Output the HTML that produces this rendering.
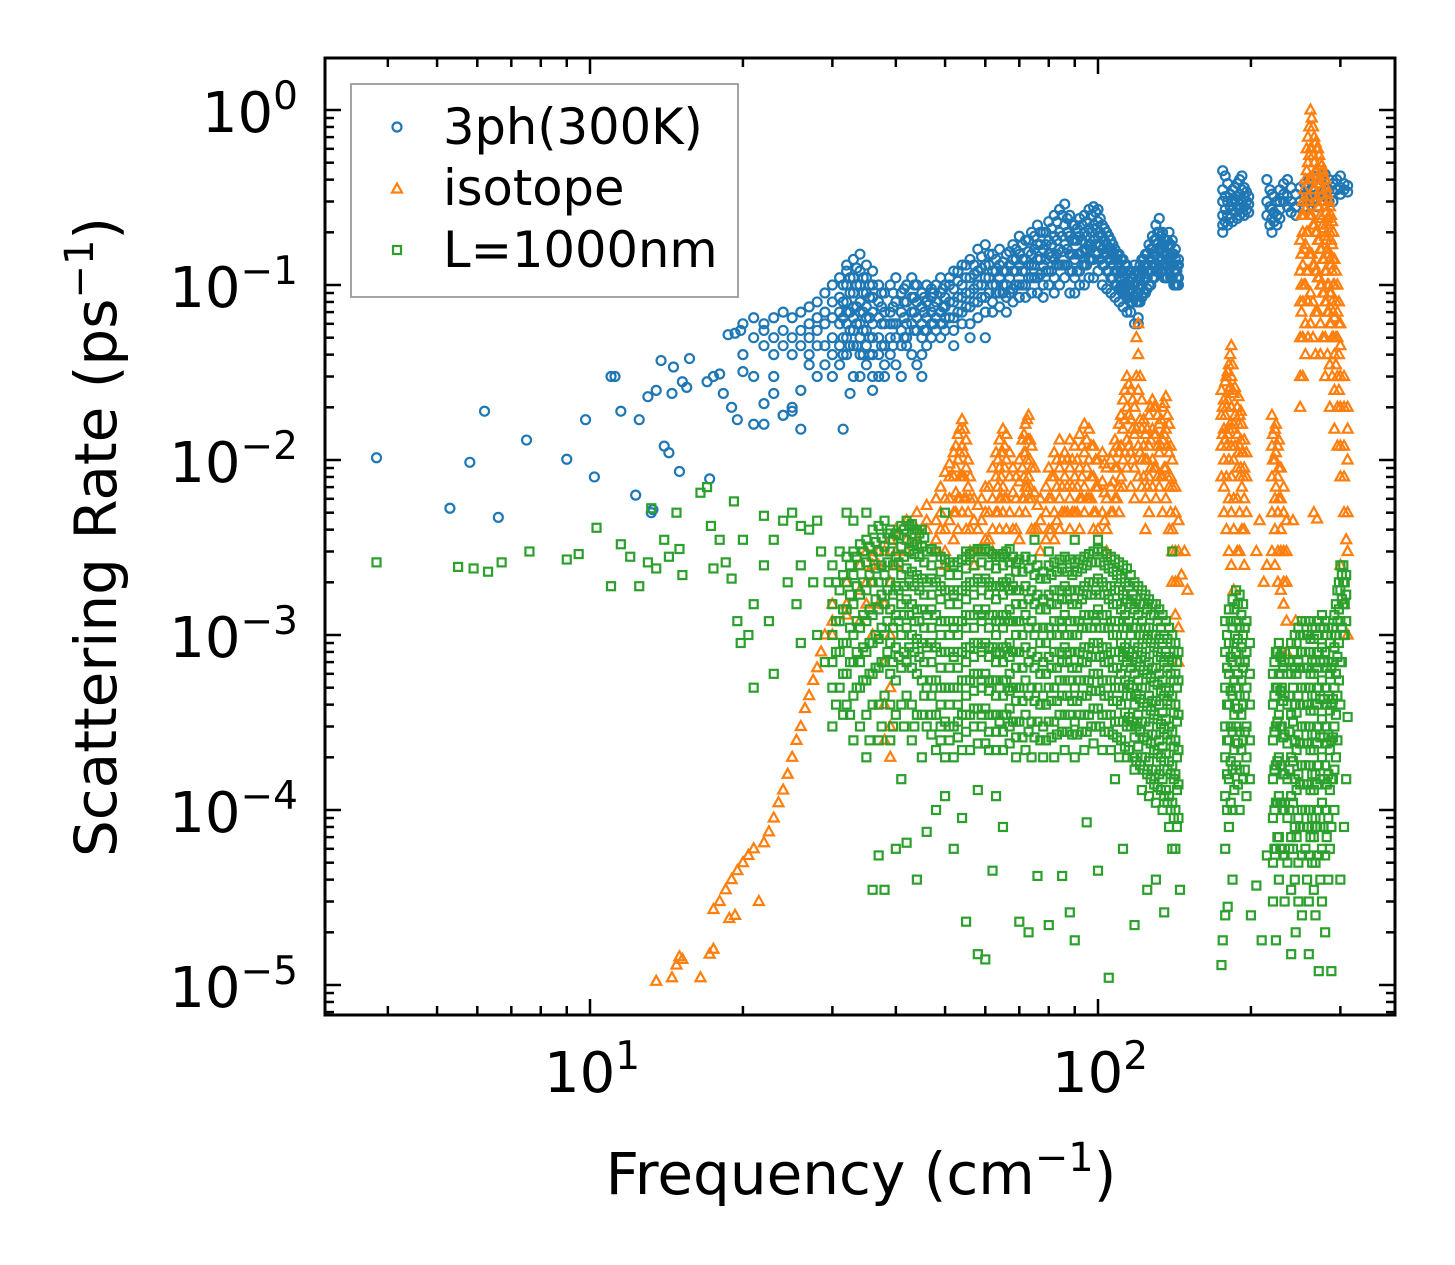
<!DOCTYPE html>
<html><head><meta charset="utf-8"><style>
html,body{margin:0;padding:0;background:#fff;}
svg{display:block;font-family:"DejaVu Sans","Liberation Sans",sans-serif;}
</style></head><body>
<svg id="chart" width="1455" height="1265" viewBox="0 0 1455 1265" xmlns="http://www.w3.org/2000/svg">
<rect width="1455" height="1265" fill="#fff"/>
<g id="marks"></g>
<g id="axes"></g>
</svg>
<script>
const blueSparse=[[3.8,.0103],[5.3,.0053],[5.8,.0097],[6.2,.019],[6.6,.0047],[7.5,.013],[9,.0101],[9.8,.017],[10.2,.008],[11,.03],[11.2,.03],[11.5,.019],[12.3,.0063],[12.5,.017],[13,.023],[13.2,.005],[13.3,.0052],[13.5,.025],[13.8,.037],[14,.012],[14.3,.011],[14.5,.024],[14.6,.034],[15,.0086],[15.2,.028],[15.5,.026],[15.7,.038],[17,.028],[17.2,.0078],[17.5,.03],[18,.031],[18.3,.024],[18.7,.052],[19,.02],[19.3,.053],[19.5,.017],[19.8,.055],[22,.016],[24,.018],[25,.019],[26,.015],[31.5,.015],[32.5,.024]];
const blueCols=[[20,.04,.06,.032],[21,.016,.05,.065,.03],[22,.021,.045,.055,.06],[23,.024,.03,.065,.05,.04],[24,.018,.055,.045,.07],[25,.02,.065,.04,.05],[26,.025,.07,.055,.045],[27,.035,.075,.05,.06,.04],[28,.03,.08,.055,.065,.045],[29,.045,.09,.06,.07,.035],[30,.05,.1,.065,.08,.04,.03],[31,.06,.11,.07,.085,.045,.035],[32,.07,.13,.08,.1,.05,.12,.06,.04],[33,.065,.14,.09,.11,.055,.075,.045,.03],[34,.06,.15,.1,.12,.05,.08,.07,.04,.03],[35,.055,.13,.09,.11,.045,.075,.065,.035],[36,.05,.12,.085,.1,.04,.07,.06,.03,.025],[37,.05,.1,.08,.065,.04,.03],[38,.045,.09,.07,.06,.035,.03],[39,.05,.1,.07,.06,.04],[40,.06,.11,.08,.05,.035],[41,.055,.09,.07,.045,.03],[42,.06,.1,.08,.05,.045],[43,.07,.11,.085,.06,.04],[44,.065,.1,.08,.055,.035],[45,.06,.09,.075,.05,.04,.03],[46,.065,.1,.08,.055,.045],[47,.07,.095,.085,.06,.05],[48,.065,.1,.08,.055],[49,.07,.11,.09,.06,.05],[50,.075,.1,.085,.065,.055],[52,.08,.12,.095,.065,.055,.045],[54,.085,.13,.1,.07,.06],[56,.09,.14,.11,.075,.06,.05],[58,.1,.16,.12,.08,.065],[60,.11,.17,.13,.085,.07,.05],[62,.1,.15,.12,.08,.07],[64,.11,.16,.13,.09,.075],[66,.1,.15,.12,.085,.07],[68,.12,.17,.14,.095,.08],[70,.13,.19,.15,.1,.085],[72,.12,.18,.14,.1,.085],[74,.13,.2,.15,.11,.09],[76,.14,.22,.17,.11,.09],[78,.13,.2,.16,.1,.085],[80,.15,.23,.18,.12,.1],[82,.14,.25,.19,.11,.09],[84,.16,.27,.2,.13,.1],[86,.17,.29,.22,.13,.11],[88,.15,.25,.19,.12,.09],[90,.14,.22,.18,.11,.09],[92,.15,.24,.19,.12,.1],[94,.16,.25,.2,.13,.1],[96,.17,.27,.21,.14,.11],[98,.18,.28,.22,.14,.11],[100,.19,.27,.23,.15,.12],[102,.16,.22,.19,.13,.1],[104,.15,.2,.17,.12,.095],[106,.14,.18,.16,.11,.09],[108,.12,.16,.14,.1,.085],[110,.11,.15,.13,.095,.08],[112,.1,.14,.12,.09,.075],[114,.1,.13,.115,.085,.07],[116,.095,.12,.11,.08,.07],[118,.1,.13,.115,.085,.06],[120,.09,.12,.1,.08,.065,.06],[122,.1,.14,.12,.085],[124,.11,.15,.13,.09],[126,.12,.17,.14,.1],[128,.13,.19,.16,.11],[130,.15,.22,.18,.12],[132,.16,.24,.2,.13],[134,.14,.2,.17,.12],[136,.13,.18,.15,.11],[138,.14,.2,.17,.12],[140,.13,.18,.15,.11],[142,.12,.16,.14,.1],[144,.11,.14,.13,.1],[176,.22,.3,.45,.25,.35,.2],[178,.23,.32,.42,.27],[180,.25,.3,.38,.22],[182,.24,.33,.28],[184,.27,.35,.3,.23],[186,.26,.36,.31],[188,.28,.38,.32,.24],[190,.27,.4,.33,.25],[192,.3,.42,.35],[194,.28,.36,.32,.25],[196,.27,.34,.3],[198,.26,.32,.29],[215,.3,.4,.25],[218,.28,.35,.22],[220,.27,.33,.24,.2],[222,.26,.32,.23],[225,.25,.3,.22],[228,.27,.35,.3,.24],[232,.3,.38,.33],[236,.32,.4,.28],[240,.3,.36,.26],[245,.28,.33,.25],[250,.3,.36],[255,.32,.38,.28],[260,.33,.4,.3],[265,.35,.42,.3],[270,.33,.38,.28],[275,.34,.4],[280,.36,.43,.32],[285,.35,.4,.3],[290,.34,.38,.3],[295,.35,.4],[300,.36,.42,.33],[305,.35,.38],[310,.34,.37]];
const blueCols2=[[31.5,.05,.065,.08,.1,.04],[32.5,.055,.07,.09,.11,.045],[33.5,.06,.075,.1,.125,.045],[34.5,.055,.07,.09,.11,.04],[35.5,.05,.065,.085,.1,.04],[37.5,.045,.06,.075,.09],[39.5,.045,.06,.075,.09],[41.5,.05,.065,.08,.095],[43.5,.055,.07,.085,.1],[45.5,.055,.07,.085],[47.5,.06,.075,.09],[49.5,.06,.075,.095],[51,.065,.08,.1,.11],[53,.07,.085,.105,.12],[55,.075,.09,.11,.13],[57,.08,.095,.115,.13],[59,.085,.1,.125,.145],[61,.09,.11,.13,.15],[63,.09,.1,.12,.14],[65,.09,.1,.12,.135],[67,.09,.11,.13,.155],[69,.1,.12,.14,.16],[71,.1,.12,.14,.17],[73,.11,.13,.155,.18],[75,.11,.13,.16,.19],[77,.115,.14,.17,.2],[79,.12,.14,.17,.2],[81,.12,.145,.17,.21],[83,.13,.15,.18,.23],[85,.13,.155,.19,.25],[87,.13,.16,.2,.24],[89,.12,.15,.18,.22],[91,.12,.15,.18,.21],[93,.13,.155,.18,.22],[95,.13,.16,.19,.23],[97,.14,.17,.2,.25],[99,.15,.17,.21,.26],[101,.14,.17,.2,.24],[103,.13,.15,.18,.21],[105,.12,.14,.16,.19],[107,.11,.13,.15,.17],[109,.1,.12,.14,.15],[111,.095,.105,.12,.14],[113,.09,.1,.11,.13],[115,.085,.095,.105,.12],[117,.08,.09,.1,.11],[119,.08,.09,.105,.12],[121,.08,.095,.11,.13],[123,.09,.105,.12,.14],[125,.095,.11,.13,.15],[127,.1,.12,.14,.16],[129,.11,.13,.15,.18],[131,.12,.14,.17,.2],[133,.12,.14,.16,.19],[135,.11,.13,.15,.17],[137,.11,.13,.15,.18],[139,.11,.13,.15,.17],[141,.1,.12,.13,.15],[143,.1,.11,.12,.13]];
const orangeSparse=[[13.5,1.05e-5],[14.5,1.1e-5],[14.8,1.3e-5],[15.2,1.4e-5],[15,1.45e-5],[16.5,1.1e-5],[17.2,1.5e-5],[17.5,1.6e-5],[17.5,2.7e-5],[18,3e-5],[18.5,3.5e-5],[18.8,2.4e-5],[19,4e-5],[19.3,2.5e-5],[19.5,4.5e-5],[20,5e-5],[20.5,5.5e-5],[21,6e-5],[21.5,3e-5],[22,6.5e-5],[22.5,7.5e-5],[23,9e-5],[23.5,1.1e-4],[24,1.3e-4],[24.5,1.6e-4],[25,2e-4],[25.5,2.5e-4],[26,3e-4],[26.5,3.8e-4],[27,4.5e-4],[27.5,5.5e-4],[28,6.5e-4],[28.5,8e-4],[29,1e-3],[146,.0022],[148,.003],[150,.0018],[205,.003],[208,.0045],[212,.002],[215,.0025],[242,.0045],[245,.0012],[300,.0025],[305,.0015],[308,.0035],[310,.001],[270,.0046],[266,.005]];
const orangeCols=[[30,.0012,.001,.0015],[32,.0015,.0013,.002],[34,.0018,.0012,.0025],[35,.002,.0015,.003],[36,.002,.001,.0025,.0028],[37,.0025,.0015,.003],[38,.003,.0015,7e-4,4e-4,2.5e-4],[39,.0035,.002,.001,5e-4,3e-4,2e-4],[40,.003,.0025,.004],[42,.0035,.003,.0045],[44,.004,.0035,.005],[46,.0045,.004,.0055],[48,.0035,.0045,.006,.003],[50,.004,.006,.0085,.003,.0025],[52,.005,.008,.011,.0035],[53,.006,.01,.014,.004],[54,.008,.012,.017,.005],[55,.006,.009,.013,.004],[56,.004,.006,.008,.003],[57,.003,.0045,.006,.0025],[58,.003,.004,.0055],[60,.0035,.005,.007],[62,.004,.006,.009,.003],[63,.005,.008,.011],[64,.006,.009,.013,.004],[65,.007,.011,.015,.005],[66,.006,.01,.014,.004],[67,.005,.008,.011],[68,.004,.0065,.009],[70,.005,.0075,.01,.0035],[71,.006,.009,.013],[72,.007,.011,.016,.005],[73,.008,.013,.018,.006],[74,.006,.009,.012,.004],[75,.004,.0065,.009],[77,.003,.0045,.006],[79,.0035,.005,.007],[80,.004,.006,.009],[82,.005,.008,.011,.0035],[84,.006,.009,.013,.004],[86,.005,.008,.011],[88,.006,.009,.013,.004],[90,.005,.008,.012],[92,.006,.009,.014,.004],[94,.007,.011,.016,.005],[96,.006,.01,.015],[98,.005,.008,.012,.004],[100,.004,.007,.01],[102,.005,.0075,.011],[104,.004,.006,.009,.003],[106,.005,.007,.01],[108,.006,.009,.013],[110,.007,.011,.016,.005],[112,.01,.015,.022,.007],[114,.013,.02,.03,.009],[116,.011,.017,.025,.007],[118,.009,.014,.02,.006],[120,.012,.025,.04,.06,.008],[122,.01,.015,.022,.007],[124,.006,.01,.014,.004],[126,.008,.012,.018,.005],[128,.01,.015,.022,.007],[130,.009,.014,.02,.006],[132,.007,.011,.016],[134,.008,.013,.02,.005],[136,.009,.015,.023,.006],[138,.007,.011,.016,.004],[140,.004,.007,.01,.003,.002],[142,.003,.005,.007,.002,.0013],[144,.002,.003,.0045,.0011,7e-4],[175,.012,.018,.025,.008],[177,.01,.015,.022,.007,.005],[179,.012,.02,.03,.008,.004],[181,.015,.025,.035,.01,.006,.003],[183,.012,.02,.03,.045,.008,.005,.0025],[185,.01,.016,.024,.006,.004,.0018],[188,.009,.014,.02,.006,.003],[190,.008,.012,.018,.005,.003],[192,.007,.011,.016,.004],[194,.006,.009,.013,.004,.0025],[196,.005,.008,.011],[220,.008,.012,.018,.005,.003],[223,.006,.01,.015,.004,.0025],[226,.005,.008,.012,.003,.002],[229,.004,.006,.009,.003,.0018],[232,.003,.005,.007,.002,.0015],[235,.002,.003,.0045,.0012,8e-4],[250,.05,.08,.12,.18,.03,.02],[253,.08,.13,.2,.3,.05,.03],[256,.1,.17,.27,.4,.06,.04],[259,.12,.2,.32,.5,.7,.08,.05],[262,.15,.25,.4,.6,1.0,.09,.06],[265,.13,.22,.35,.55,.8,.08,.05],[268,.12,.2,.3,.45,.65,.07,.04],[271,.11,.18,.28,.42,.6,.07],[274,.1,.16,.25,.38,.5,.06,.04],[277,.09,.14,.22,.33,.45,.05],[280,.08,.12,.19,.28,.4,.05,.03],[283,.07,.1,.16,.24,.33,.04],[286,.06,.09,.14,.2,.28,.035,.02],[289,.05,.08,.12,.17,.23,.03],[292,.04,.065,.1,.14,.025,.015],[296,.03,.05,.07,.1,.02,.012],[300,.02,.03,.045,.06,.012,.008],[305,.012,.02,.03,.008,.005],[310,.01,.015,.02,.005,.003]];
const orangeCols2=[[49,.004,.005,.007],[51,.0045,.006,.008,.0095],[52.5,.005,.0065,.009,.012],[53.5,.006,.008,.011,.015],[54.5,.006,.008,.011,.015],[55.5,.005,.007,.01],[59,.003,.0045,.006],[61,.0035,.005,.007],[63.5,.005,.007,.01],[64.5,.006,.008,.011],[65.5,.006,.009,.012],[69,.004,.006,.008],[71.5,.006,.008,.011,.014],[72.5,.007,.01,.013,.017],[73.5,.007,.01,.013],[76,.004,.0055],[81,.004,.006,.008],[83,.0045,.007,.01],[85,.005,.007,.01],[87,.005,.007,.01],[89,.005,.007,.01],[91,.005,.007,.01],[93,.006,.008,.012],[95,.006,.009,.013],[97,.006,.008,.012],[99,.005,.007,.01],[103,.0045,.0065,.0095],[107,.005,.0075,.011],[109,.006,.009,.012],[111,.008,.012,.018],[113,.011,.017,.025],[115,.012,.018,.027],[117,.01,.015,.022],[119,.015,.03,.05],[121,.011,.017,.03],[123,.008,.012,.017],[125,.007,.01,.015],[127,.009,.013,.02],[129,.009,.014,.02],[131,.008,.012,.018],[133,.008,.012,.017],[135,.009,.014,.021],[137,.008,.012,.018],[139,.005,.008,.012],[176,.014,.02],[178,.013,.018,.028],[180,.014,.022,.032],[182,.016,.026,.04],[184,.015,.025,.035],[186,.012,.018,.026],[189,.011,.016,.023],[191,.009,.013,.019],[193,.008,.011],[221,.01,.014],[224,.007,.011,.016],[227,.006,.009,.013],[251.5,.07,.1,.15,.25],[254.5,.1,.16,.25,.35],[257.5,.12,.2,.3,.45,.6],[260.5,.15,.25,.4,.55,.8],[263.5,.15,.25,.4,.6,.9],[266.5,.13,.22,.35,.5,.7],[269.5,.12,.2,.3,.45,.6],[272.5,.11,.18,.28,.4,.55],[275.5,.1,.16,.24,.35,.48],[278.5,.09,.14,.21,.3,.42],[281.5,.08,.12,.18,.26,.36],[284.5,.07,.1,.15,.22,.3],[287.5,.06,.09,.13,.18,.25],[290.5,.05,.07,.1,.14,.2],[294,.035,.05,.08,.12],[298,.025,.04,.06,.08]];
const greenSparse=[[3.8,.0026],[5.5,.00245],[5.9,.0024],[6.3,.0023],[6.7,.0026],[7.6,.003],[9,.0027],[9.5,.0029],[10.3,.0041],[11,.0019],[11.5,.0033],[12,.0028],[12.5,.0019],[13,.0026],[13.2,.0053],[13.5,.0024],[14,.0035],[14.3,.0028],[14.8,.005],[15,.0031],[15.2,.0022],[16.5,.0065],[17,.007],[17.3,.0042],[17.5,.0024],[18,.0035],[18.5,.0026],[19,.0021],[19.2,.0058],[19.5,.0012],[19.8,.0009],[20,.0035],[20.5,.001],[21,.0015],[21,.0005],[22,.0048],[22,.0025],[22.5,.0012],[23,.0006],[23,.0035],[24,.0045],[24.5,.002],[25,.005],[25.5,.0015],[26,.0009],[26,.0025],[27,.004],[27.5,.002],[28,.001],[28.5,.003],[29,.0007],[29.5,.002],[26,.0042],[28,.0045],[32,.005],[33,.0045],[35,.005],[37,5.5e-5],[38,3.5e-5],[36,3.5e-5],[40,6e-5],[42,6.5e-5],[44,4e-5],[46,7.5e-5],[48,1e-4],[52,6e-5],[55,2.3e-5],[58,1.5e-5],[60,1.4e-5],[62,4.5e-5],[65,8e-5],[70,2.3e-5],[73,2e-5],[76,4.2e-5],[80,2.2e-5],[85,4.2e-5],[88,2.6e-5],[90,1.8e-5],[95,8.5e-5],[100,4.5e-5],[105,1.1e-5],[108,1.5e-4],[112,6e-5],[118,2.2e-5],[125,3.5e-5],[130,4e-5],[135,2.6e-5],[140,6e-5],[145,3.5e-5],[175,1.3e-5],[176,1.8e-5],[180,2.8e-5],[200,2.5e-5],[205,3.7e-5],[210,1.8e-5],[215,5.5e-5],[245,2e-5],[248,3e-5],[300,4e-5],[305,8e-5],[308,1.5e-4],[310,3.4e-4],[50,.005],[55,.003],[75,.0035],[80,.003],[90,.0035],[100,.0035],[140,.003]];
const greenCols=[[30,.0015,.001,7e-4,5e-4,.0025,3e-4],[31,.0018,.0012,8e-4,5e-4,.003],[32,.002,.0014,9e-4,6e-4,4e-4,.0028],[33,.0022,.0015,.001,7e-4,4.5e-4,.003,2.5e-4],[34,.0025,.0017,.0011,7e-4,5e-4,.0033,3e-4],[35,.0026,.0018,.0012,8e-4,5.5e-4,.0035,3.5e-4,2e-4],[36,.0028,.002,.0013,9e-4,6e-4,.004,4e-4],[37,.003,.002,.0014,9.5e-4,6.5e-4,.0042,4e-4,2.5e-4],[38,.0032,.0022,.0015,.001,7e-4,.0045,4.5e-4],[39,.003,.002,.0014,9e-4,6e-4,.004,4e-4,2.5e-4],[40,.0028,.0019,.0013,8.5e-4,5.5e-4,.0038,3.5e-4],[41,.0032,.0022,.0015,.001,6.5e-4,.0042,4e-4,1.5e-4],[42,.0035,.0024,.0016,.0011,7e-4,.0045,4.5e-4],[43,.0034,.0023,.0015,.001,6.5e-4,.0043,4e-4,2.5e-4],[44,.0033,.0022,.0014,9.5e-4,6e-4,.004,3.5e-4],[45,.0032,.0021,.0014,9e-4,5.5e-4,.004,3.5e-4,2e-4],[46,.003,.002,.0013,8.5e-4,5e-4,3e-4],[47,.0031,.0021,.0014,9e-4,5.5e-4,3.5e-4],[48,.003,.002,.0013,8.5e-4,5.5e-4,3.5e-4,2.2e-4],[49,.0028,.0019,.0012,8e-4,5e-4,3e-4],[50,.0027,.0018,.0012,8e-4,5e-4,3.2e-4,2e-4,1.2e-4],[51,.0026,.0018,.0012,8e-4,5e-4,3e-4],[52,.0025,.0017,.0011,7.5e-4,5e-4,3e-4,2e-4],[53,.0026,.0018,.0012,8e-4,5e-4,3.2e-4],[54,.0027,.0018,.0012,8e-4,5.5e-4,3.5e-4,2.2e-4,9e-5],[55,.0028,.0019,.0013,8.5e-4,5.5e-4,3.5e-4],[56,.0029,.002,.0013,8.5e-4,5.5e-4,3.5e-4,2.2e-4],[57,.003,.002,.0013,9e-4,6e-4,3.8e-4],[58,.0031,.0021,.0014,9e-4,6e-4,3.8e-4,2.4e-4,1.3e-4],[59,.003,.002,.0013,8.5e-4,5.5e-4,3.5e-4],[60,.0031,.0021,.0014,9e-4,6e-4,3.8e-4,2.4e-4],[61,.003,.002,.0013,8.5e-4,5.5e-4,3.5e-4,2.2e-4],[62,.0029,.0019,.0013,8.5e-4,5.5e-4,3.5e-4],[63,.0028,.0019,.0012,8e-4,5.5e-4,3.5e-4,2.2e-4,1.2e-4],[64,.0028,.0019,.0012,8e-4,5e-4,3.2e-4],[65,.0029,.002,.0013,8.5e-4,5.5e-4,3.5e-4,2.2e-4],[66,.003,.002,.0013,8.5e-4,5.5e-4,3.5e-4],[67,.0031,.0021,.0014,9e-4,6e-4,3.8e-4,2.4e-4],[68,.0028,.0019,.0012,8e-4,5e-4,3.2e-4],[69,.0026,.0018,.0012,8e-4,5e-4,3.2e-4,2e-4],[70,.0027,.0018,.0012,8e-4,5e-4,3.2e-4],[72,.0028,.0019,.0013,8.5e-4,5.5e-4,3.5e-4,2.2e-4],[74,.0027,.0018,.0012,8e-4,5e-4,3.2e-4,2e-4],[76,.0025,.0017,.0011,7.5e-4,5e-4,3.2e-4],[78,.0023,.0016,.0011,7e-4,4.5e-4,3e-4,2e-4],[80,.0025,.0017,.0011,7.5e-4,5e-4,3.2e-4],[82,.0026,.0018,.0012,8e-4,5e-4,3.2e-4,2e-4],[84,.0027,.0018,.0012,8e-4,5.5e-4,3.5e-4],[86,.0028,.0019,.0013,8.5e-4,5.5e-4,3.5e-4,2.2e-4],[88,.0027,.0018,.0012,8e-4,5.5e-4,3.5e-4],[90,.0026,.0018,.0012,8e-4,5e-4,3.2e-4,2e-4],[92,.0027,.0018,.0012,8e-4,5.5e-4,3.5e-4],[94,.0028,.0019,.0013,8.5e-4,5.5e-4,3.5e-4,2.2e-4],[96,.0029,.002,.0013,8.5e-4,5.5e-4,3.5e-4],[98,.003,.002,.0013,9e-4,6e-4,3.8e-4,2.4e-4],[100,.0031,.0021,.0014,9e-4,6e-4,3.8e-4],[102,.003,.002,.0013,8.5e-4,5.5e-4,3.5e-4,2.2e-4],[104,.0029,.0019,.0013,8.5e-4,5.5e-4,3.5e-4],[106,.0028,.0019,.0012,8e-4,5.5e-4,3.5e-4,2.2e-4],[108,.0027,.0018,.0012,8e-4,5e-4,3.2e-4],[110,.0026,.0018,.0012,8e-4,5e-4,3.2e-4,2e-4],[112,.0025,.0017,.0011,7.5e-4,5e-4,3.2e-4],[114,.0024,.0016,.0011,7e-4,4.5e-4,3e-4,2e-4],[116,.0022,.0015,.001,6.5e-4,4.5e-4,3e-4],[118,.002,.0014,9e-4,6e-4,4e-4,2.6e-4,1.7e-4],[120,.0019,.0013,8.5e-4,5.5e-4,3.5e-4,2.3e-4],[122,.0018,.0012,8e-4,5e-4,3.2e-4,2e-4,1.3e-4],[124,.0017,.0011,7.5e-4,5e-4,3.2e-4,2e-4],[126,.0016,.0011,7e-4,4.5e-4,3e-4,1.9e-4,1.2e-4],[128,.0015,.001,6.5e-4,4.2e-4,2.7e-4,1.7e-4],[130,.0015,.001,6.5e-4,4.2e-4,2.7e-4,1.7e-4,1.1e-4],[132,.0014,9.5e-4,6e-4,4e-4,2.5e-4,1.6e-4],[134,.0013,9e-4,5.5e-4,3.6e-4,2.3e-4,1.5e-4,1e-4],[136,.0012,8e-4,5e-4,3.3e-4,2.1e-4,1.3e-4],[138,.0011,7.5e-4,4.8e-4,3e-4,1.9e-4,1.2e-4,8e-5],[140,.001,7e-4,4.5e-4,2.8e-4,1.8e-4,1.1e-4],[142,9e-4,6e-4,4e-4,2.5e-4,1.6e-4,1e-4,6e-5],[144,8e-4,5.5e-4,3.5e-4,2.2e-4,1.4e-4,9e-5],[178,.0012,8e-4,5e-4,3e-4,2e-4,1.2e-4,6e-5,2.5e-5],[181,.0014,9e-4,6e-4,4e-4,2.5e-4,1.5e-4,8e-5],[184,.0016,.0011,7e-4,4.5e-4,2.8e-4,1.7e-4,1e-4,4e-5],[187,.0018,.0012,8e-4,5e-4,3e-4,1.8e-4],[190,.0017,.0011,7e-4,4.5e-4,2.8e-4,1.7e-4,1e-4],[193,.0015,.001,6.5e-4,4e-4,2.5e-4,1.5e-4],[196,.0012,8e-4,5e-4,3e-4,2e-4,1.2e-4],[199,9e-4,6e-4,4e-4,2.5e-4,1.5e-4],[221,6e-4,4e-4,2.5e-4,1.5e-4,9e-5,5e-5,3e-5],[224,8e-4,5e-4,3e-4,1.8e-4,1.1e-4,6e-5,1.8e-5],[227,9e-4,6e-4,3.5e-4,2e-4,1.2e-4,7e-5,4e-5],[230,8e-4,5e-4,3e-4,1.8e-4,1.1e-4,6e-5],[233,7e-4,4.5e-4,2.7e-4,1.6e-4,1e-4,5.5e-5,3e-5],[236,6e-4,4e-4,2.4e-4,1.5e-4,9e-5,5e-5],[240,9e-4,6e-4,3.5e-4,2e-4,1.2e-4,7e-5,3.5e-5,1.5e-5],[244,.001,6.5e-4,4e-4,2.5e-4,1.5e-4,8e-5,4e-5],[248,.0011,7e-4,4.5e-4,2.7e-4,1.6e-4,9e-5,5e-5],[252,.0012,8e-4,5e-4,3e-4,1.8e-4,1e-4,5.5e-5,2.5e-5],[256,.0012,8e-4,5e-4,3e-4,1.8e-4,1e-4,6e-5],[260,.0012,8e-4,5e-4,3e-4,1.8e-4,1e-4,5.5e-5,3e-5,1.5e-5],[264,.0011,7e-4,4.5e-4,2.7e-4,1.6e-4,9e-5,5e-5],[268,.0011,7e-4,4.5e-4,2.7e-4,1.6e-4,9e-5,5e-5,2.5e-5],[272,.0012,8e-4,5e-4,3e-4,1.8e-4,1e-4,5.5e-5,1.2e-5],[276,.0013,8.5e-4,5.5e-4,3.3e-4,2e-4,1.1e-4,6e-5,3e-5],[280,.0012,8e-4,5e-4,3e-4,1.8e-4,1e-4,5.5e-5,2e-5],[284,.0011,7e-4,4.5e-4,2.7e-4,1.6e-4,9e-5,4e-5],[288,.001,6.5e-4,4e-4,2.5e-4,1.5e-4,8e-5,1.2e-5],[292,.0013,8.5e-4,5e-4,3e-4,1.7e-4,1e-4],[296,.0018,.0012,7.5e-4,4.5e-4,2.5e-4],[300,.0025,.0018,.0012,7e-4,4e-4],[304,.0025,.002,.0015,.001],[308,.0022,.0017,.0012]];
const greenCols2=[[30.5,.0012,8e-4,4e-4,.002],[31.5,.0014,9e-4,6e-4,.0022,3.5e-4],[32.5,.0017,.0011,7e-4,.0025,3.5e-4],[33.5,.0019,.0012,8e-4,.0028,5e-4],[34.5,.002,.0013,8.5e-4,.003,5.5e-4],[35.5,.0022,.0014,9e-4,.0032,6e-4,2.5e-4],[36.5,.0024,.0016,.001,.0034,6.5e-4],[37.5,.0025,.0017,.0011,.0036,7e-4,3e-4],[38.5,.0026,.0018,.0012,.0038,8e-4],[39.5,.0025,.0017,.0011,.0035,7e-4,3e-4],[40.5,.0026,.0018,.0012,.0037,7.5e-4],[41.5,.0028,.0019,.0013,.004,8e-4,3e-4],[42.5,.003,.002,.0013,.0042,8.5e-4],[43.5,.0029,.0019,.0012,.004,8e-4,3e-4],[44.5,.0028,.0018,.0012,.0038,7.5e-4],[45.5,.0026,.0017,.0011,.0036,7e-4,4.5e-4],[47,.0025,.0017,.0011,7e-4,4.5e-4,2.7e-4],[49,.0023,.0016,.001,6.5e-4,4e-4,2.5e-4],[51,.0022,.0015,.001,6.5e-4,4e-4,2.5e-4],[53,.0022,.0015,.001,6.5e-4,4e-4,2.6e-4],[55,.0024,.0016,.0011,7e-4,4.5e-4,2.8e-4],[57,.0025,.0017,.0011,7.5e-4,4.8e-4,3e-4],[59,.0026,.0018,.0012,8e-4,5e-4,3e-4],[61,.0025,.0017,.0011,7.5e-4,4.8e-4,2.8e-4],[63,.0024,.0016,.001,7e-4,4.5e-4,2.8e-4],[65,.0025,.0017,.0011,7e-4,4.5e-4,2.8e-4],[67,.0026,.0018,.0012,7.5e-4,4.8e-4,3e-4],[69,.0023,.0015,.001,6.5e-4,4.2e-4,2.6e-4],[71,.0023,.0015,.001,6.5e-4,4.2e-4,2.6e-4],[73,.0024,.0016,.0011,7e-4,4.5e-4,2.8e-4],[75,.0022,.0015,.001,6.5e-4,4.2e-4,2.6e-4],[77,.0021,.0014,9e-4,6e-4,4e-4,2.5e-4],[79,.0021,.0014,9e-4,6e-4,4e-4,2.5e-4],[81,.0022,.0015,.001,6.5e-4,4.2e-4,2.6e-4],[83,.0023,.0015,.001,6.5e-4,4.2e-4,2.7e-4],[85,.0024,.0016,.0011,7e-4,4.5e-4,2.8e-4],[87,.0023,.0016,.001,7e-4,4.5e-4,2.8e-4],[89,.0022,.0015,.001,6.5e-4,4.2e-4,2.7e-4],[91,.0023,.0015,.001,6.5e-4,4.2e-4,2.7e-4],[93,.0024,.0016,.0011,7e-4,4.5e-4,2.8e-4],[95,.0025,.0017,.0011,7e-4,4.5e-4,2.8e-4],[97,.0026,.0017,.0011,7.5e-4,4.8e-4,3e-4],[99,.0026,.0018,.0012,7.5e-4,4.8e-4,3e-4],[101,.0026,.0017,.0011,7.5e-4,4.8e-4,3e-4],[103,.0025,.0017,.0011,7e-4,4.5e-4,2.8e-4],[105,.0024,.0016,.0011,7e-4,4.5e-4,2.8e-4],[107,.0023,.0015,.001,6.5e-4,4.2e-4,2.7e-4],[109,.0022,.0015,.001,6.5e-4,4.2e-4,2.6e-4],[111,.0021,.0014,9e-4,6e-4,4e-4,2.5e-4],[113,.002,.0013,8.5e-4,5.5e-4,3.6e-4,2.3e-4],[115,.0019,.0012,8e-4,5.2e-4,3.4e-4,2.2e-4],[117,.0017,.0011,7.5e-4,5e-4,3.2e-4,2e-4],[119,.0016,.0011,7e-4,4.6e-4,3e-4,1.9e-4],[121,.0015,.001,6.6e-4,4.3e-4,2.8e-4,1.8e-4],[123,.0015,.001,6.3e-4,4.1e-4,2.6e-4,1.7e-4],[125,.0014,9.5e-4,6e-4,3.9e-4,2.5e-4,1.6e-4],[127,.0013,9e-4,5.7e-4,3.7e-4,2.4e-4,1.5e-4],[129,.0013,8.5e-4,5.4e-4,3.5e-4,2.2e-4,1.4e-4],[131,.0012,8e-4,5.2e-4,3.3e-4,2.1e-4,1.35e-4],[133,.0011,7.5e-4,4.8e-4,3.1e-4,2e-4,1.3e-4],[135,.001,7e-4,4.5e-4,2.9e-4,1.9e-4,1.2e-4],[137,9.5e-4,6.5e-4,4.2e-4,2.7e-4,1.7e-4,1.1e-4],[139,9e-4,6e-4,4e-4,2.5e-4,1.6e-4,1e-4],[141,8e-4,5.5e-4,3.6e-4,2.3e-4,1.5e-4,9e-5],[143,7e-4,5e-4,3.2e-4,2e-4,1.3e-4,8e-5],[179.5,.001,6.5e-4,4e-4,2.5e-4,1.6e-4,1e-4],[182.5,.0012,7.5e-4,4.8e-4,3e-4,1.9e-4,1.1e-4],[185.5,.0014,9e-4,5.5e-4,3.5e-4,2.2e-4,1.3e-4],[188.5,.0015,9.5e-4,6e-4,3.8e-4,2.4e-4,1.4e-4],[191.5,.0013,8.5e-4,5.5e-4,3.5e-4,2.2e-4],[194.5,.0011,7e-4,4.5e-4,2.8e-4,1.7e-4],[222.5,7e-4,4.5e-4,2.8e-4,1.7e-4,1e-4,6e-5],[225.5,8e-4,5e-4,3.2e-4,1.9e-4,1.1e-4,7e-5],[228.5,7.5e-4,4.8e-4,3e-4,1.8e-4,1.1e-4,6e-5],[231.5,6.5e-4,4.2e-4,2.6e-4,1.6e-4,1e-4,5.5e-5],[238,7e-4,4.5e-4,2.8e-4,1.7e-4,1e-4,6e-5],[242,8e-4,5e-4,3.2e-4,1.9e-4,1.1e-4,6e-5],[246,9e-4,6e-4,3.6e-4,2.2e-4,1.3e-4,7e-5],[250,1e-3,6.5e-4,4e-4,2.4e-4,1.4e-4,8e-5],[254,1e-3,6.5e-4,4e-4,2.4e-4,1.4e-4,8e-5],[258,1e-3,6.5e-4,4e-4,2.4e-4,1.4e-4,8e-5,4e-5],[262,9.5e-4,6e-4,3.7e-4,2.2e-4,1.3e-4,7e-5],[266,9.5e-4,6e-4,3.7e-4,2.2e-4,1.3e-4,7e-5,3.5e-5],[270,1e-3,6.5e-4,4e-4,2.4e-4,1.4e-4,8e-5],[274,1.1e-3,7e-4,4.3e-4,2.6e-4,1.5e-4,8e-5,4e-5],[278,1.1e-3,7e-4,4.3e-4,2.6e-4,1.5e-4,8e-5],[282,1e-3,6.5e-4,4e-4,2.4e-4,1.4e-4,7e-5],[286,9e-4,6e-4,3.7e-4,2.2e-4,1.3e-4,6e-5],[290,1.1e-3,7e-4,4.3e-4,2.6e-4,1.5e-4],[294,1.5e-3,1e-3,6e-4,3.5e-4,2e-4],[298,2e-3,1.4e-3,9e-4,5.5e-4],[302,2.2e-3,1.6e-3,1.1e-3,7e-4],[306,2e-3,1.5e-3,1e-3]];
const xTickExps=[1,2];
const yTickExps=[0,-1,-2,-3,-4,-5];
const legendLabels=["3ph(300K)","isotope","L=1000nm"];

const NS="http://www.w3.org/2000/svg";
const L=325,R=1395,T=58,B=1015;
function xs(f){return 590+508*(Math.log10(f)-1);}
function ys(r){return 110-175*Math.log10(r);}
function mk(tag,attrs,parent){const e=document.createElementNS(NS,tag);for(const k in attrs)e.setAttribute(k,attrs[k]);parent.appendChild(e);return e;}
const marks=document.getElementById('marks');
const axes=document.getElementById('axes');

function flatten(sparse){const out=sparse.slice();for(let a=1;a<arguments.length;a++){arguments[a].forEach(c=>{for(let i=1;i<c.length;i++)out.push([c[0],c[i]]);});}return out;}
function circle(x,y,p){return mk('circle',{cx:x,cy:y,r:4.5,fill:'none',stroke:'#1f77b4','stroke-width':2.2},p);}
function tri(x,y,p){return mk('path',{d:`M${x},${y-5.5}L${x+5},${y+3.5}L${x-5},${y+3.5}Z`,fill:'none',stroke:'#ff7f0e','stroke-width':2.2},p);}
function sq(x,y,p){return mk('rect',{x:x-4,y:y-4,width:8,height:8,fill:'none',stroke:'#2ca02c','stroke-width':2.2},p);}

const gB=mk('g',{},marks);


flatten(blueSparse,blueCols,blueCols2).forEach(d=>{const e=circle(xs(d[0]),ys(d[1]),gB);

});
const gO=mk('g',{},marks);


flatten(orangeSparse,orangeCols,orangeCols2).forEach(d=>{const e=tri(xs(d[0]),ys(d[1]),gO);

});
const gG=mk('g',{},marks);


flatten(greenSparse,greenCols,greenCols2).forEach(d=>{const e=sq(xs(d[0]),ys(d[1]),gG);

});

const tg=mk('g',{stroke:'#000','stroke-width':2.5},axes);


for(let e=0;e<=3;e++){for(let m=1;m<=9;m++){const f=m*Math.pow(10,e);if(f<3.02||f>385)continue;const x=xs(f);const len=m===1?16:9;
mk('line',{x1:x,y1:B,x2:x,y2:B-len},tg);mk('line',{x1:x,y1:T,x2:x,y2:T+len},tg);}}
for(let e=-6;e<=0;e++){for(let m=1;m<=9;m++){const r=m*Math.pow(10,e);const y=ys(r);if(y<T+1||y>B-1)continue;const len=m===1?16:9;
mk('line',{x1:L,y1:y,x2:L+len,y2:y},tg);mk('line',{x1:R,y1:y,x2:R-len,y2:y},tg);}}
const frame=mk('rect',{x:L,y:T,width:R-L,height:B-T,fill:'none',stroke:'#000','stroke-width':3},axes);



function powLabel(x,y,exp,anchor,name){const t=mk('text',{x:x,y:y,'text-anchor':anchor,'font-size':56,fill:'#000'},axes);


const a=mk('tspan',{},t);a.textContent='10';const b=mk('tspan',{dy:-23,'font-size':39},t);b.textContent=String(exp).replace('-','−');return t;}
xTickExps.forEach(e=>powLabel(xs(Math.pow(10,e))+2,1092,e,'middle','x-tick-label'));
yTickExps.forEach(e=>{powLabel(298,ys(Math.pow(10,e))+22,e,'end','y-tick-label');});

const xt=mk('text',{x:861,y:1194,'text-anchor':'middle','font-size':58,fill:'#000'},axes);


xt.innerHTML='Frequency (cm<tspan dy="-23" font-size="40">−1</tspan><tspan dy="23">)</tspan>';
const yt=mk('text',{x:0,y:0,'text-anchor':'middle','font-size':58,fill:'#000',transform:'translate(116,537) rotate(-90)'},axes);


yt.innerHTML='Scattering Rate (ps<tspan dy="-23" font-size="40">−1</tspan><tspan dy="23">)</tspan>';

const lg=mk('g',{},axes);


mk('rect',{x:351,y:84,width:387,height:213,fill:'#fff','fill-opacity':0.85,stroke:'#999','stroke-width':1.8},lg);
const lys=[127,188,250];
legendLabels.forEach((lab,i)=>{const y=lys[i];
if(i===0)circle(397,y,lg);else if(i===1)tri(397,y+1,lg);else sq(397,y,lg);
const t=mk('text',{x:443,y:y+17,'font-size':49.5,fill:'#000'},lg);t.textContent=lab;

});
</script>
</body></html>
